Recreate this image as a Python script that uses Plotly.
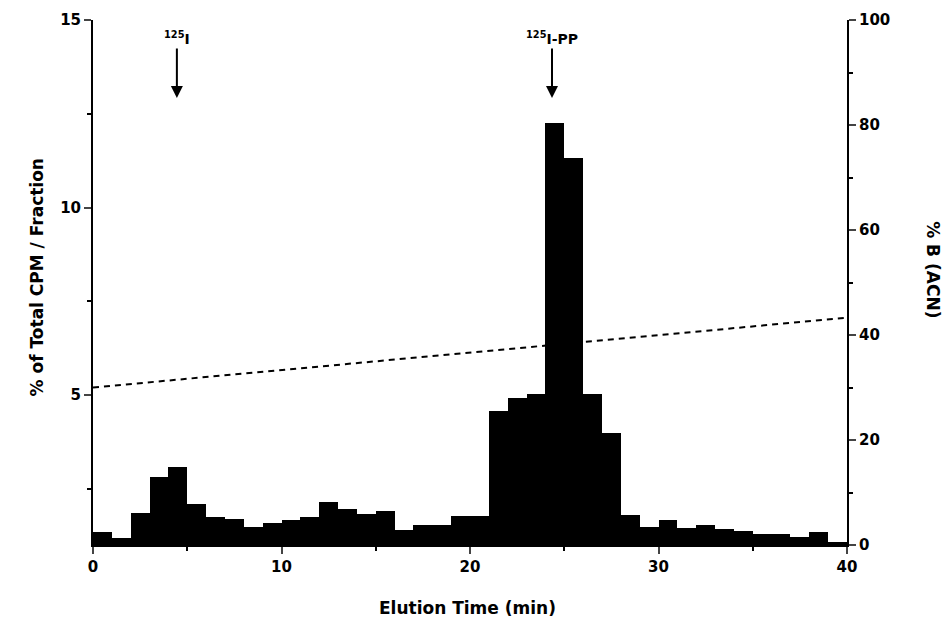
import plotly.graph_objects as go

# Data
bin_start = list(range(0, 40))
cpm_pct = [1.35, 1.18, 1.85, 2.81, 3.09, 2.09, 1.76, 1.69, 1.49, 1.58,
           1.66, 1.76, 2.14, 1.97, 1.84, 1.90, 1.40, 1.53, 1.53, 1.77,
           1.77, 4.57, 4.91, 5.02, 12.26, 11.32, 5.04, 4.00, 1.81, 1.49,
           1.67, 1.46, 1.54, 1.43, 1.38, 1.29, 1.30, 1.21, 1.36, 1.08]
gradient_time = [0, 40]
gradient_pctB = [30, 43.3]
x_ticks = [0, 10, 20, 30, 40]
y_ticks = [5, 10, 15]
y2_ticks = [0, 20, 40, 60, 80, 100]
markers = [("<sup>125</sup>I", 4.45), ("<sup>125</sup>I-PP", 24.35)]
AXIS_BASE = 1

FONT = "DejaVu Sans"

fig = go.Figure()
fig.add_trace(go.Bar(
    x=[b + 0.5 for b in bin_start], y=[v - AXIS_BASE for v in cpm_pct], width=1,
    base=AXIS_BASE, marker=dict(color="black", line=dict(width=0)),
    yaxis="y", showlegend=False,
))

fig.add_trace(go.Scatter(
    x=gradient_time, y=gradient_pctB, mode="lines", yaxis="y2",
    line=dict(color="black", width=2, dash="6px,5px"), showlegend=False,
))

axfont = dict(family=FONT, size=15, color="black", weight="bold")

fig.update_layout(
    width=943, height=617,
    margin=dict(l=93, r=96, t=20, b=72),
    paper_bgcolor="white", plot_bgcolor="white",
    bargap=0,
    xaxis=dict(range=[0, 40], tickvals=x_ticks, ticks="outside", ticklen=7,
               tickwidth=2, showline=True, linewidth=2, linecolor="black",
               showgrid=False, zeroline=False, tickfont=axfont,
               minor=dict(tickvals=[5, 15, 25, 35], ticks="outside", ticklen=4,
                          tickwidth=2, tickcolor="black")),
    yaxis=dict(range=[AXIS_BASE, 15], tickvals=y_ticks, ticks="outside", ticklen=7,
               tickwidth=2, showline=True, linewidth=2, linecolor="black",
               showgrid=False, zeroline=False, tickfont=axfont,
               minor=dict(tickvals=[2.5, 7.5, 12.5], ticks="outside", ticklen=4,
                          tickwidth=2, tickcolor="black")),
    yaxis2=dict(range=[0, 100], tickvals=y2_ticks, ticks="outside", ticklen=7,
                tickwidth=2, showline=True, linewidth=2, linecolor="black",
                overlaying="y", side="right", anchor="x",
                showgrid=False, zeroline=False, tickfont=axfont,
                minor=dict(tickvals=[10, 30, 50, 70, 90], ticks="outside", ticklen=4,
                           tickwidth=2, tickcolor="black")),
)

titlefont = dict(family=FONT, size=17, color="black", weight="bold")
fig.add_annotation(text="Elution Time (min)", xref="paper", yref="paper",
                   x=0.497, y=-0.12, yanchor="middle", showarrow=False,
                   font=titlefont)
fig.add_annotation(text="% of Total CPM / Fraction", xref="paper", yref="paper",
                   x=-0.074, y=0.51, xanchor="center", yanchor="middle",
                   textangle=-90, showarrow=False, font=titlefont)
fig.add_annotation(text="% B (ACN)", xref="paper", yref="paper",
                   x=1.113, y=0.525, xanchor="center", yanchor="middle",
                   textangle=90, showarrow=False, font=titlefont)

for label, xpos in markers:
    fig.add_annotation(text=label, x=xpos, y=12.92, xref="x", yref="y",
                       showarrow=True, arrowhead=2, arrowsize=1.2, arrowwidth=2,
                       arrowcolor="black", ax=0, ay=-60,
                       font=dict(family=FONT, size=14, color="black", weight="bold"))

fig.write_html("out.html", config={"displayModeBar": False},
               post_script="document.body.style.margin='0px';document.body.style.padding='0px';")
